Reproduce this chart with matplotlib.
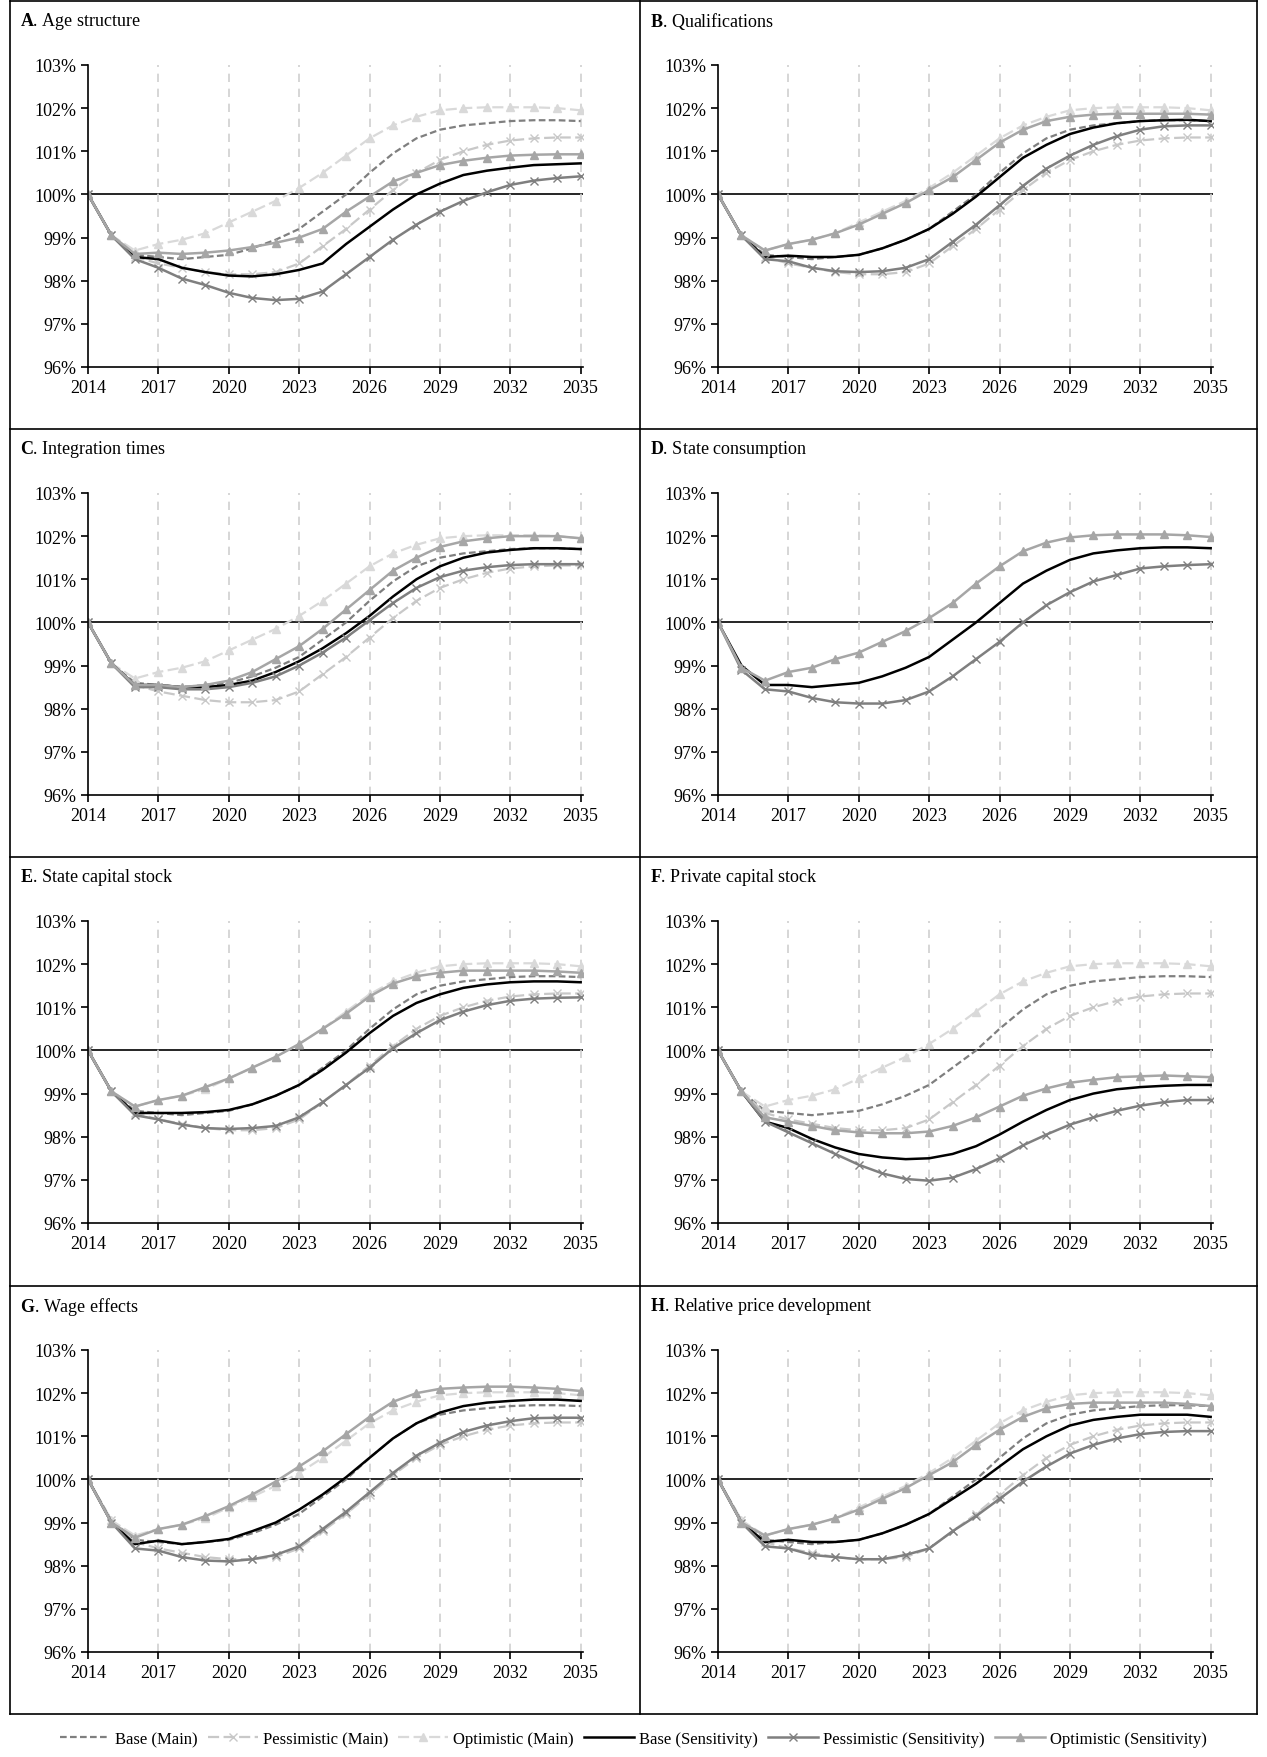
import matplotlib.pyplot as plt
from matplotlib.lines import Line2D
import numpy as np

plt.rcParams['font.family'] = ['Liberation Serif', 'DejaVu Serif']
plt.rcParams['mathtext.fontset'] = 'custom'
plt.rcParams['mathtext.rm'] = 'Liberation Serif'
plt.rcParams['mathtext.bf'] = 'Liberation Serif:bold'

years = np.arange(2014, 2036)

base_main = [100, 99.05, 98.6, 98.55, 98.5, 98.55, 98.6, 98.75, 98.95, 99.2, 99.6, 100.0,
             100.5, 100.95, 101.3, 101.5, 101.6, 101.65, 101.7, 101.72, 101.72, 101.7]
pess_main = [100, 99.05, 98.55, 98.4, 98.3, 98.2, 98.15, 98.15, 98.2, 98.4, 98.8, 99.2,
             99.65, 100.1, 100.5, 100.8, 101.0, 101.15, 101.25, 101.3, 101.32, 101.32]
opt_main = [100, 99.05, 98.7, 98.85, 98.95, 99.1, 99.35, 99.6, 99.85, 100.15, 100.5, 100.9,
            101.3, 101.6, 101.8, 101.95, 102.0, 102.02, 102.02, 102.02, 102.0, 101.95]

titles = [("A", "Age structure"), ("B", "Qualifications"), ("C", "Integration times"),
          ("D", "State consumption"), ("E", "State capital stock"), ("F", "Private capital stock"),
          ("G", "Wage effects"), ("H", "Relative price development")]

base_sens = [
    [100, 99.05, 98.55, 98.5, 98.3, 98.2, 98.12, 98.1, 98.15, 98.25, 98.4, 98.85, 99.25, 99.65,
     100.0, 100.25, 100.45, 100.55, 100.62, 100.68, 100.7, 100.72],
    [100, 99.05, 98.55, 98.58, 98.55, 98.55, 98.6, 98.75, 98.95, 99.2, 99.55, 99.95, 100.4, 100.85,
     101.15, 101.4, 101.55, 101.65, 101.7, 101.72, 101.73, 101.7],
    [100, 99.05, 98.55, 98.55, 98.5, 98.5, 98.55, 98.65, 98.85, 99.1, 99.4, 99.75, 100.15, 100.6,
     101.0, 101.3, 101.5, 101.62, 101.68, 101.72, 101.72, 101.7],
    [100, 99.0, 98.55, 98.55, 98.5, 98.55, 98.6, 98.75, 98.95, 99.2, 99.6, 100.0, 100.45, 100.9,
     101.2, 101.45, 101.6, 101.67, 101.72, 101.74, 101.74, 101.72],
    [100, 99.05, 98.55, 98.55, 98.55, 98.57, 98.62, 98.75, 98.95, 99.2, 99.55, 99.95, 100.4, 100.8,
     101.1, 101.3, 101.45, 101.53, 101.58, 101.6, 101.6, 101.58],
    [100, 99.05, 98.35, 98.2, 97.95, 97.75, 97.6, 97.52, 97.48, 97.5, 97.6, 97.78, 98.05, 98.35,
     98.62, 98.85, 99.0, 99.1, 99.15, 99.18, 99.2, 99.2],
    [100, 99.0, 98.5, 98.58, 98.5, 98.55, 98.62, 98.8, 99.0, 99.3, 99.65, 100.05, 100.5, 100.95,
     101.3, 101.55, 101.7, 101.78, 101.82, 101.85, 101.85, 101.82],
    [100, 99.0, 98.55, 98.6, 98.55, 98.55, 98.6, 98.75, 98.95, 99.2, 99.55, 99.9, 100.3, 100.7,
     101.0, 101.25, 101.38, 101.45, 101.5, 101.5, 101.5, 101.45],
]
pess_sens = [
    [100, 99.05, 98.5, 98.3, 98.05, 97.9, 97.72, 97.6, 97.55, 97.58, 97.75, 98.15, 98.55, 98.95,
     99.3, 99.6, 99.85, 100.05, 100.22, 100.32, 100.38, 100.42],
    [100, 99.05, 98.5, 98.45, 98.3, 98.22, 98.2, 98.22, 98.3, 98.5, 98.9, 99.3, 99.75, 100.2,
     100.6, 100.9, 101.15, 101.35, 101.5, 101.58, 101.6, 101.6],
    [100, 99.05, 98.5, 98.5, 98.45, 98.45, 98.5, 98.6, 98.75, 99.0, 99.3, 99.65, 100.05, 100.45,
     100.8, 101.05, 101.2, 101.28, 101.33, 101.35, 101.35, 101.35],
    [100, 98.9, 98.45, 98.4, 98.25, 98.15, 98.12, 98.12, 98.2, 98.4, 98.75, 99.15, 99.55, 100.0,
     100.4, 100.7, 100.95, 101.1, 101.25, 101.3, 101.33, 101.35],
    [100, 99.05, 98.5, 98.4, 98.28, 98.2, 98.18, 98.2, 98.25, 98.45, 98.8, 99.2, 99.6, 100.05,
     100.4, 100.7, 100.9, 101.05, 101.15, 101.2, 101.22, 101.23],
    [100, 99.05, 98.35, 98.1, 97.85, 97.6, 97.35, 97.15, 97.02, 96.98, 97.05, 97.25, 97.5, 97.8,
     98.05, 98.28, 98.45, 98.6, 98.72, 98.8, 98.85, 98.85],
    [100, 99.0, 98.4, 98.35, 98.2, 98.12, 98.1, 98.15, 98.25, 98.45, 98.85, 99.25, 99.7, 100.15,
     100.55, 100.85, 101.1, 101.25, 101.35, 101.42, 101.43, 101.43],
    [100, 99.0, 98.45, 98.4, 98.25, 98.2, 98.15, 98.15, 98.25, 98.4, 98.8, 99.15, 99.55, 99.95,
     100.3, 100.6, 100.8, 100.95, 101.05, 101.1, 101.12, 101.12],
]
opt_sens = [
    [100, 99.05, 98.62, 98.65, 98.62, 98.65, 98.7, 98.78, 98.88, 99.0, 99.2, 99.6, 99.95, 100.3,
     100.5, 100.68, 100.78, 100.85, 100.9, 100.92, 100.93, 100.93],
    [100, 99.05, 98.7, 98.85, 98.95, 99.1, 99.3, 99.55, 99.8, 100.1, 100.4, 100.8, 101.2, 101.5,
     101.7, 101.8, 101.85, 101.87, 101.87, 101.87, 101.87, 101.85],
    [100, 99.05, 98.55, 98.55, 98.5, 98.55, 98.65, 98.85, 99.15, 99.45, 99.85, 100.3, 100.75, 101.2,
     101.5, 101.75, 101.88, 101.95, 102.0, 102.0, 102.0, 101.95],
    [100, 98.95, 98.65, 98.85, 98.95, 99.15, 99.3, 99.55, 99.8, 100.1, 100.45, 100.9, 101.3, 101.65,
     101.85, 101.97, 102.02, 102.04, 102.04, 102.04, 102.02, 101.98],
    [100, 99.05, 98.7, 98.85, 98.95, 99.15, 99.35, 99.6, 99.85, 100.15, 100.5, 100.85, 101.25, 101.55,
     101.72, 101.8, 101.85, 101.85, 101.85, 101.85, 101.83, 101.8],
    [100, 99.05, 98.45, 98.35, 98.25, 98.15, 98.1, 98.08, 98.08, 98.12, 98.25, 98.45, 98.7, 98.95,
     99.12, 99.25, 99.32, 99.38, 99.4, 99.42, 99.4, 99.38],
    [100, 99.0, 98.65, 98.85, 98.95, 99.15, 99.38, 99.65, 99.95, 100.3, 100.65, 101.05, 101.45, 101.8,
     102.0, 102.1, 102.13, 102.15, 102.15, 102.13, 102.1, 102.05],
    [100, 99.0, 98.7, 98.85, 98.95, 99.1, 99.3, 99.55, 99.8, 100.1, 100.4, 100.8, 101.15, 101.45,
     101.65, 101.75, 101.78, 101.78, 101.78, 101.78, 101.75, 101.7],
]
show_main = [True, True, True, False, True, True, True, True]

W, H = 1267, 1758
fig = plt.figure(figsize=(W / 100, H / 100), dpi=100)

# cell layout in pixels
x0, x1, xm = 10, 1257, 640
row_top = [2, 430, 858, 1287, 1715]


def fx(px):
    return px / W


def fy(py):
    return 1 - py / H


for i, (letter, name) in enumerate(titles):
    r, c = divmod(i, 2)
    cl = x0 if c == 0 else xm
    ct = row_top[r]
    ax = fig.add_axes([fx(cl + 78), fy(ct + 366), 495 / W, 302 / H])
    fig.text(fx(cl + 10), fy(ct + 20), r"$\bf{" + letter + "}$. " + name, fontsize=13,
             va="center", ha="left")
    if show_main[i]:
        ax.plot(years, base_main, color="#7f7f7f", ls=(0, (3, 1.5)), lw=1.6)
        ax.plot(years, pess_main, color="#c8c8c8", ls=(0, (5, 2)), lw=1.6, marker="x", ms=6)
        ax.plot(years, opt_main, color="#d9d9d9", ls=(0, (5, 2)), lw=1.6, marker="^", ms=6)
    ax.plot(years, base_sens[i], color="black", lw=1.8)
    ax.plot(years, pess_sens[i], color="#7f7f7f", lw=1.8, marker="x", ms=6)
    ax.plot(years, opt_sens[i], color="#a6a6a6", lw=1.8, marker="^", ms=6)
    ax.axhline(100, color="black", lw=1.2, zorder=0)
    for yr in range(2017, 2036, 3):
        ax.axvline(yr, color="#d0d0d0", ls=(0, (5, 4)), lw=1.2, zorder=0)
    ax.set_xlim(2014, 2035.1)
    ax.set_ylim(96, 103)
    ax.set_xticks(range(2014, 2036, 3))
    ax.set_yticks(range(96, 104))
    ax.set_yticklabels([f"{v}%" for v in range(96, 104)])
    ax.tick_params(labelsize=13, direction="out", length=5, width=1.2)
    for s in ("top", "right"):
        ax.spines[s].set_visible(False)
    for s in ("left", "bottom"):
        ax.spines[s].set_linewidth(1.2)

# borders
for yy in row_top:
    fig.add_artist(Line2D([fx(x0), fx(x1)], [fy(yy), fy(yy)], color="black", lw=1.2))
for xx in (x0, xm, x1):
    fig.add_artist(Line2D([fx(xx), fx(xx)], [fy(row_top[0]), fy(row_top[-1])], color="black", lw=1.2))

handles = [
    Line2D([], [], color="#7f7f7f", ls=(0, (3, 1.5)), lw=1.6),
    Line2D([], [], color="#c8c8c8", ls=(0, (5, 2)), lw=1.6, marker="x", ms=6),
    Line2D([], [], color="#d9d9d9", ls=(0, (5, 2)), lw=1.6, marker="^", ms=6),
    Line2D([], [], color="black", lw=1.8),
    Line2D([], [], color="#7f7f7f", lw=1.8, marker="x", ms=6),
    Line2D([], [], color="#a6a6a6", lw=1.8, marker="^", ms=6),
]
labels = ["Base (Main)", "Pessimistic (Main)", "Optimistic (Main)", "Base (Sensitivity)",
          "Pessimistic (Sensitivity)", "Optimistic (Sensitivity)"]
fig.legend(handles, labels, loc="center", bbox_to_anchor=(0.5, fy(1740)), ncol=6, frameon=False,
           fontsize=12, handlelength=3, columnspacing=0.6, handletextpad=0.3)

fig.savefig("out.png", dpi=100)
